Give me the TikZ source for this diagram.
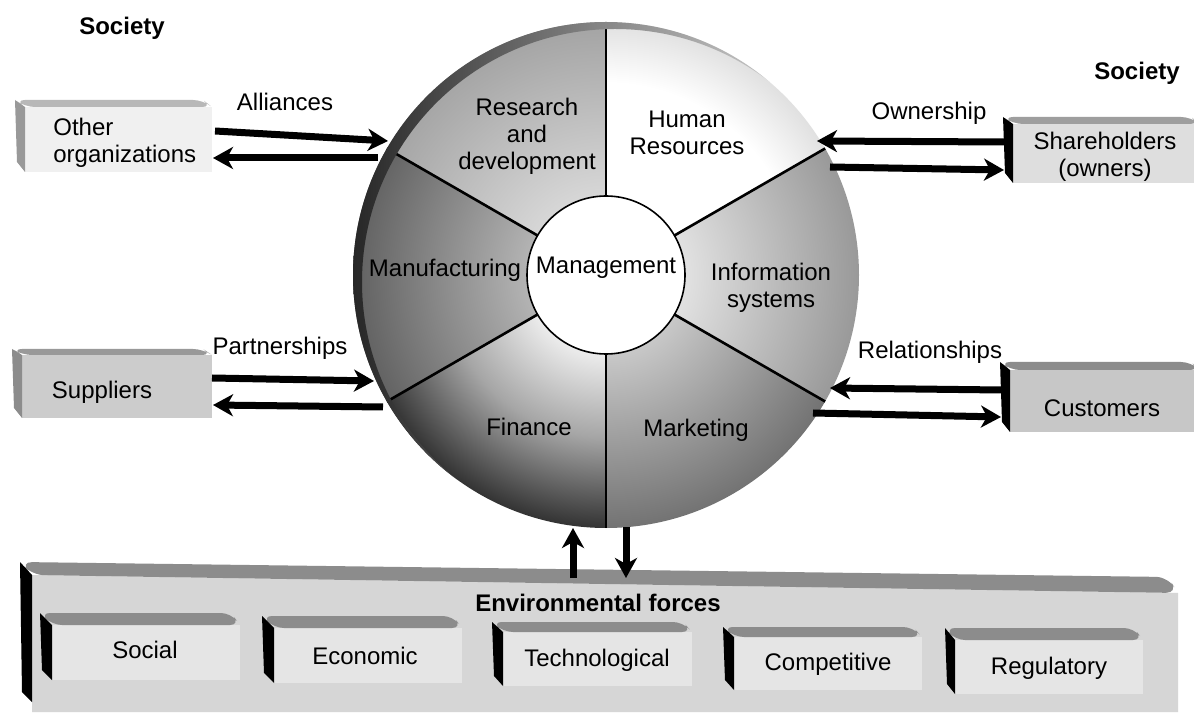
\documentclass[tikz,border=0pt]{standalone}
\usepackage{fontspec}
\setmainfont{Liberation Sans}
\usetikzlibrary{arrows.meta,calc}

% radial shadings of the six functional sectors (centred on the wheel)
\pgfdeclareradialshading{secHR}{\pgfpointorigin}{color(0bp)=(white); color(19bp)=(white); color(25bp)=(black!12); color(50bp)=(black!12)}
\pgfdeclareradialshading{secRD}{\pgfpointorigin}{color(0bp)=(black!16); color(8bp)=(black!16); color(25bp)=(black!36); color(50bp)=(black!36)}
\pgfdeclareradialshading{secIS}{\pgfpointorigin}{color(0bp)=(black!12); color(8bp)=(black!12); color(25bp)=(black!40); color(50bp)=(black!40)}
\pgfdeclareradialshading{secMK}{\pgfpointorigin}{color(0bp)=(black!22); color(8bp)=(black!22); color(25bp)=(black!55); color(50bp)=(black!55)}
\pgfdeclareradialshading{secFI}{\pgfpointorigin}{color(0bp)=(black!8); color(8bp)=(black!8); color(16bp)=(black!35); color(25bp)=(black!80); color(50bp)=(black!80)}
\pgfdeclareradialshading{secMF}{\pgfpointorigin}{color(0bp)=(black!30); color(8bp)=(black!30); color(25bp)=(black!62); color(50bp)=(black!62)}

% one sector of the wheel: start angle, end angle, shading
\newcommand\wheelsector[3]{%
  \begin{scope}
    \clip (C) -- ($(C)+(#1:253)$) arc[start angle=#1, end angle=#2, radius=253] -- cycle;
    \shade[shading=#3] (C) circle[radius=253];
  \end{scope}}

% a slab seen from the upper left:
% back-left x, front-left x, right x, top y, front top y, bottom y, side, top, front colours
\newcommand\slab[9]{%
  \fill[#9] (#2,#5) rectangle (#3,#6);
  \fill[#8, rounded corners=5] (#1,#4) -- ({#3-9},#4) -- (#3,#5) -- (#2,#5) -- cycle;
  \fill[#7] (#1,#4) -- (#2,#5) -- (#2,#6) -- ({#1+2},{#6-10}) -- cycle;}

\begin{document}
\begin{tikzpicture}[x=0.5pt, y=-0.5pt,
  font=\fontsize{12}{13.5}\selectfont,
  lbl/.style={inner sep=0pt, align=center},
  head/.style={inner sep=0pt, font=\fontsize{12}{13.5}\selectfont\bfseries},
  divider/.style={line width=1.3pt},
  flow/.style={line width=3.5pt, -{Stealth[length=10pt, width=11pt, inset=3pt]}}]

\useasboundingbox[fill=white] (0,0) rectangle (1194,716);
\coordinate (C) at (606,275);

% ---------- environmental forces bar ----------
\fill[black!16] (32,575) -- (1178,593) -- (1178,712) -- (32,712) -- cycle;
\fill[black!45, rounded corners=6] (20,562) -- (1168,577) -- (1178,593) -- (32,575) -- cycle;
\fill[black] (20,562) -- (32,575) -- (32,702) -- (22,692) -- cycle;

\slab{40}{52}{240}{613}{625}{680}{black}{black!45}{black!10}
\slab{262}{274}{462}{616}{628}{683}{black}{black!45}{black!10}
\slab{492}{503}{692}{622}{632}{686}{black}{black!45}{black!10}
\slab{723}{734}{922}{627}{637}{690}{black}{black!45}{black!10}
\slab{945}{955}{1143}{628}{640}{694}{black}{black!45}{black!10}

\node[head] (env) at (598,603) {Environmental forces};
\node[lbl] (social) at (145,650) {Social};
\node[lbl] (economic) at (365,656) {Economic};
\node[lbl] (techno) at (597,660) {Technological};
\node[lbl] (compet) at (828,664) {Competitive};
\node[lbl] (regul) at (1049,668) {Regulatory};

% ---------- outside parties ----------
\slab{15}{25}{212}{100}{107}{172}{black!40}{black!28}{black!6}
\slab{12}{22}{212}{349}{355}{418}{black!45}{black!40}{black!20}
\slab{1003}{1013}{1200}{117}{124}{183}{black}{black!38}{black!13}
\slab{1000}{1010}{1200}{362}{370}{432}{black}{black!45}{black!22}

\node[lbl, anchor=west, align=left] (orgs) at (53,143) {Other\\organizations};
\node[lbl] (suppliers) at (102,392) {Suppliers};
\node[lbl] (owners) at (1105,157) {Shareholders\\(owners)};
\node[lbl] (customers) at (1102,408) {Customers};

\node[head] (socL) at (122,28) {Society};
\node[head] (socR) at (1137,73) {Society};

% ---------- the organisation wheel ----------
\wheelsector{-90}{-150}{secRD}
\wheelsector{-150}{-210}{secMF}
\wheelsector{-210}{-270}{secFI}
\wheelsector{-270}{-330}{secMK}
\wheelsector{-330}{-390}{secIS}
\wheelsector{-30}{-90}{secHR}

\foreach \a in {-90,-150,-210,90,-330,-30}
  \draw[divider] ($(C)+(\a:79)$) -- ($(C)+(\a:253)$);

% shadowed rim on the left of the wheel
\begin{scope}
  \clip (C) circle[radius=253];
  \shade[even odd rule, left color=black!85, right color=black!8]
    (C) circle[radius=255] ($(C)+(9,7)$) circle[radius=253];
\end{scope}

\node[draw, circle, fill=white, line width=0.8pt, minimum size=79pt, inner sep=0pt] (mgmt) at (C) {};
\node[lbl] (mgmtlbl) at (606,268) {Management};

\node[lbl] (rd) at (527,136) {Research\\and\\development};
\node[lbl] (hr) at (687,133) {Human\\Resources};
\node[lbl] (is) at (771,288) {Information\\systems};
\node[lbl] (mf) at (445,270) {Manufacturing};
\node[lbl] (fi) at (529,427) {Finance};
\node[lbl] (mk) at (696,430) {Marketing};

% ---------- flows ----------
\node[lbl] (alliances) at (285,102) {Alliances};
\node[lbl] (ownership) at (929,113) {Ownership};
\node[lbl] (partner) at (280,348) {Partnerships};
\node[lbl] (relation) at (930,352) {Relationships};

\coordinate (aIn0) at (215,131);  \coordinate (aIn1) at (388,141);
\coordinate (aOut0) at (378,158); \coordinate (aOut1) at (213,158);
\coordinate (oIn0) at (1004,142); \coordinate (oIn1) at (817,141);
\coordinate (oOut0) at (830,167); \coordinate (oOut1) at (1004,170);
\coordinate (pIn0) at (212,378);  \coordinate (pIn1) at (374,381);
\coordinate (pOut0) at (383,407); \coordinate (pOut1) at (213,405);
\coordinate (rIn0) at (1001,390); \coordinate (rIn1) at (830,388);
\coordinate (rOut0) at (813,413); \coordinate (rOut1) at (1001,417);
\coordinate (eUp0) at (573,578);  \coordinate (eUp1) at (573,528);
\coordinate (eDn0) at (626,527);  \coordinate (eDn1) at (626,578);

\draw[flow] (aIn0) -- (aIn1);
\draw[flow] (aOut0) -- (aOut1);
\draw[flow] (oIn0) -- (oIn1);
\draw[flow] (oOut0) -- (oOut1);
\draw[flow] (pIn0) -- (pIn1);
\draw[flow] (pOut0) -- (pOut1);
\draw[flow] (rIn0) -- (rIn1);
\draw[flow] (rOut0) -- (rOut1);
\draw[flow] (eUp0) -- (eUp1);
\draw[flow] (eDn0) -- (eDn1);
\end{tikzpicture}
\end{document}
